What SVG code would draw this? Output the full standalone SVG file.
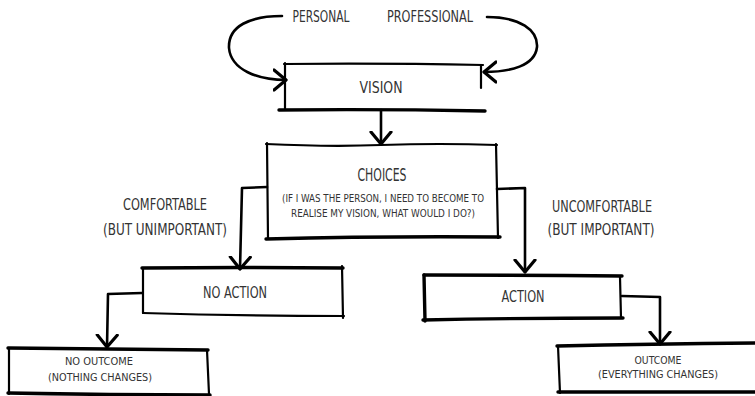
<svg xmlns="http://www.w3.org/2000/svg" width="755" height="396" viewBox="0 0 755 396">
<style>
.bg{fill:#ffffff}
.edge{fill:none;stroke:#000;stroke-width:2.2;stroke-linecap:round;stroke-linejoin:round}
.thick{stroke-width:3.4}
.conn{fill:none;stroke:#000;stroke-width:2.6;stroke-linecap:round;stroke-linejoin:round}
.t{font-family:"Liberation Sans Narrow","DejaVu Sans Condensed","Liberation Sans",sans-serif;fill:#333333;text-anchor:middle}
.big{font-size:16px}
.huge{font-size:18px}
.small{font-size:11px}
</style>
<defs>
<marker id="ah" markerUnits="userSpaceOnUse" markerWidth="26" markerHeight="26" refX="13" refY="13" orient="auto" viewBox="0 0 26 26">
<path d="M1,3 L13,13 L1,23" fill="none" stroke="#000" stroke-width="3.2" stroke-linecap="round" stroke-linejoin="round"/>
</marker>
</defs>
<rect class="bg" x="0" y="0" width="755" height="396"/>

<g id="connectors">
<path class="conn" d="M282,16 C250,16 228,26 229,48 C231,70 258,80 286,80" marker-end="url(#ah)"/>
<path class="conn" d="M487,17 C520,17 538,30 537,47 C535,66 510,72 484,72" marker-end="url(#ah)"/>
<path class="conn" d="M381,110 L381,144" marker-end="url(#ah)"/>
<path class="conn" d="M267,187 L242,188 L240,269" marker-end="url(#ah)"/>
<path class="conn" d="M497,189 L525,188 L525,272" marker-end="url(#ah)"/>
<path class="conn" d="M142,293 L108,294 L107,347" marker-end="url(#ah)"/>
<path class="conn" d="M622,296 L660,297 L660,344" marker-end="url(#ah)"/>
</g>

<g id="personal"><text class="t big" x="321" y="22" textLength="57" lengthAdjust="spacingAndGlyphs">PERSONAL</text></g>
<g id="professional"><text class="t big" x="430" y="22" textLength="86" lengthAdjust="spacingAndGlyphs">PROFESSIONAL</text></g>

<g id="vision">
<path class="edge" d="M284,64 Q380,63 483,65"/>
<path class="edge" d="M285,63 L285,110"/>
<path class="edge" d="M481,66 L481,88"/>
<path class="edge thick" d="M279,110 Q380,109 485,111"/>
<text class="t big" x="381" y="93" textLength="43" lengthAdjust="spacingAndGlyphs">VISION</text>
</g>

<g id="choices">
<path class="edge" d="M266,144 Q330,147 381,145 Q440,143 497,145"/>
<path class="edge" d="M267,143 L268,239"/>
<path class="edge" d="M496,144 L498,238"/>
<path class="edge thick" d="M266,239 Q380,236 500,237"/>
<text class="t huge" x="382" y="181" textLength="49" lengthAdjust="spacingAndGlyphs">CHOICES</text>
<text class="t small" x="383" y="202" textLength="202" lengthAdjust="spacingAndGlyphs">(IF I WAS THE PERSON, I NEED TO BECOME TO</text>
<text class="t small" x="383" y="217" textLength="184" lengthAdjust="spacingAndGlyphs">REALISE MY VISION, WHAT WOULD I DO?)</text>
</g>

<g id="comfortable">
<text class="t big" x="165" y="210" textLength="84" lengthAdjust="spacingAndGlyphs">COMFORTABLE</text>
<text class="t big" x="165" y="235" textLength="124" lengthAdjust="spacingAndGlyphs">(BUT UNIMPORTANT)</text>
</g>

<g id="uncomfortable">
<text class="t big" x="602" y="212" textLength="100" lengthAdjust="spacingAndGlyphs">UNCOMFORTABLE</text>
<text class="t big" x="601" y="235" textLength="107" lengthAdjust="spacingAndGlyphs">(BUT IMPORTANT)</text>
</g>

<g id="no-action">
<path class="edge thick" d="M142,268 Q240,267 343,268"/>
<path class="edge" d="M143,268 L143,313"/>
<path class="edge" d="M342,266 L343,318"/>
<path class="edge" d="M143,313 Q240,316 344,316"/>
<text class="t big" x="235" y="298" textLength="64" lengthAdjust="spacingAndGlyphs">NO ACTION</text>
</g>

<g id="action">
<path class="edge thick" d="M424,275 Q520,275 622,276"/>
<path class="edge thick" d="M424,275 L425,321"/>
<path class="edge" d="M620,277 L621,318"/>
<path class="edge thick" d="M423,320 Q520,318 623,318"/>
<text class="t big" x="523" y="302" textLength="43" lengthAdjust="spacingAndGlyphs">ACTION</text>
</g>

<g id="no-outcome">
<path class="edge thick" d="M8,348 Q110,349 208,350"/>
<path class="edge" d="M9,348 L9,394"/>
<path class="edge" d="M207,350 L209,394"/>
<path class="edge thick" d="M8,393 Q110,395 210,395"/>
<text class="t small" x="99" y="365" textLength="68" lengthAdjust="spacingAndGlyphs">NO OUTCOME</text>
<text class="t small" x="100" y="381" textLength="104" lengthAdjust="spacingAndGlyphs">(NOTHING CHANGES)</text>
</g>

<g id="outcome">
<path class="edge thick" d="M557,346 Q650,344 755,343"/>
<path class="edge" d="M558,346 L560,393"/>
<path class="edge thick" d="M558,392 Q650,392 755,392"/>
<text class="t small" x="658" y="364" textLength="47" lengthAdjust="spacingAndGlyphs">OUTCOME</text>
<text class="t small" x="658" y="378" textLength="120" lengthAdjust="spacingAndGlyphs">(EVERYTHING CHANGES)</text>
</g>
</svg>
